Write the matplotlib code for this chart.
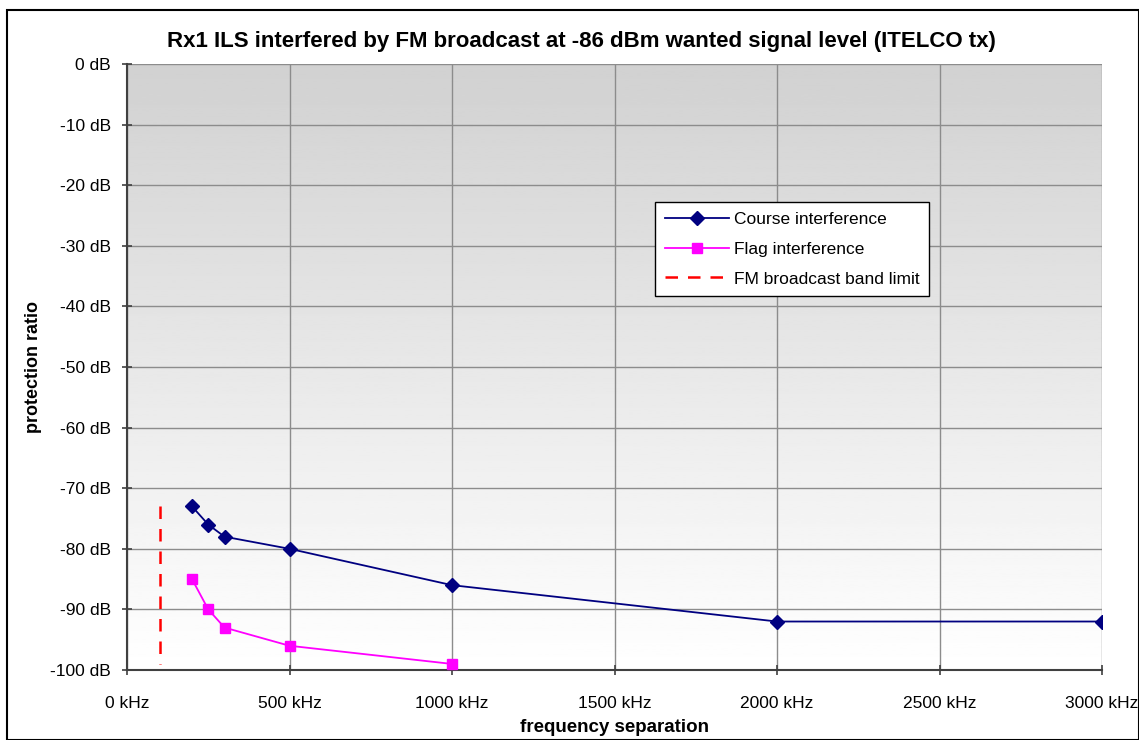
import matplotlib
matplotlib.use("Agg")
import matplotlib.pyplot as plt
import numpy as np
from matplotlib.patches import Rectangle

plt.rcParams["font.family"] = ["Liberation Sans", "DejaVu Sans"]

# data
course_freq = [200, 250, 300, 500, 1000, 2000, 3000]
course_pr = [-73, -76, -78, -80, -86, -92, -92]
flag_freq = [200, 250, 300, 500, 1000]
flag_pr = [-85, -90, -93, -96, -99]
band_limit_freq = [100, 100]
band_limit_pr = [-73, -99]

x_ticks = [0, 500, 1000, 1500, 2000, 2500, 3000]
y_ticks = list(range(-100, 1, 10))

W, H = 1139, 740
fig = plt.figure(figsize=(W / 100, H / 100), dpi=100)
ax = fig.add_axes([127 / W, 1 - 670 / H, (1102 - 127) / W, (670 - 64) / H])

# grey (top) to white (bottom) gradient background
grad = np.linspace(1.0, 0.82, 256).reshape(-1, 1)
ax.imshow(grad, cmap="gray", vmin=0, vmax=1, aspect="auto", origin="lower",
          extent=[0, 3000, -100, 0], zorder=0)

ax.set_xlim(0, 3000)
ax.set_ylim(-100, 0)
ax.set_xticks(x_ticks)
ax.set_yticks(y_ticks)
ax.set_xticklabels([f"{t} kHz" for t in x_ticks], fontsize=12.5)
ax.set_yticklabels([f"{t} dB" for t in y_ticks], fontsize=12.5)
ax.grid(True, color="#8c8c8c", linewidth=1)
for gl in ax.get_xgridlines() + ax.get_ygridlines():
    gl.set_zorder(1)

ax.plot(course_freq, course_pr, color="#000080", marker="D", markersize=7,
        linewidth=1.3, label="Course interference", zorder=3)
ax.plot(flag_freq, flag_pr, color="#ff00ff", marker="s", markersize=7,
        linewidth=1.3, label="Flag interference", zorder=3)
ax.plot(band_limit_freq, band_limit_pr, color="#ff0000", linestyle=(0, (5, 4)),
        linewidth=1.8, label="FM broadcast band limit", zorder=3)

for side in ["top", "right"]:
    ax.spines[side].set_visible(False)
for side in ["left", "bottom"]:
    ax.spines[side].set_color("#404040")
    ax.spines[side].set_linewidth(1.5)
ax.tick_params(axis="x", direction="inout", length=7, width=1.2, color="#404040", pad=15)
ax.tick_params(axis="y", direction="inout", length=7, width=1.2, color="#404040", pad=8)

ax.set_xlabel("frequency separation", fontsize=13.5, fontweight="bold", labelpad=6)
ax.set_ylabel("protection ratio", fontsize=13, fontweight="bold", labelpad=6)
fig.text(581 / W, 1 - 42 / H,
         "Rx1 ILS interfered by FM broadcast at -86 dBm wanted signal level (ITELCO tx)",
         fontsize=16, fontweight="bold", ha="center", va="center")

leg = ax.legend(loc="upper left", bbox_to_anchor=((655 - 127) / 975, 1 - (202 - 64) / 606),
                fontsize=12.5, frameon=True, fancybox=False, edgecolor="black",
                framealpha=1, handlelength=3.7, handletextpad=0.3,
                borderpad=0.55, labelspacing=0.85, borderaxespad=0)
leg.get_frame().set_linewidth(1)

# outer chart border
fig.patches.append(Rectangle((7 / W, 0), 1 - 7 / W, 1 - 10 / H,
                             transform=fig.transFigure, fill=False,
                             edgecolor="black", linewidth=1.5))

fig.savefig("out.png", dpi=100)
